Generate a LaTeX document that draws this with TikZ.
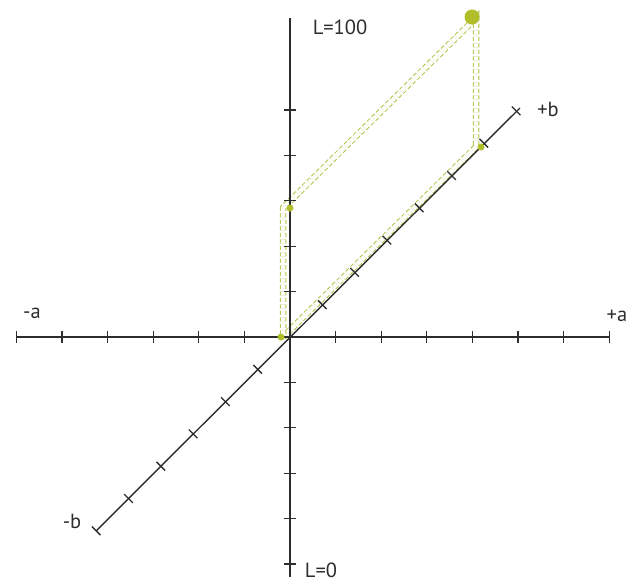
\documentclass[tikz,border=0pt]{standalone}
\usepackage{fontspec}
\setmainfont{PT Sans}
\definecolor{dotgreen}{RGB}{176,190,42}
\definecolor{guidegreen}{RGB}{180,194,70}
\definecolor{axisgray}{RGB}{45,45,45}
\begin{document}
\begin{tikzpicture}[x=1pt,y=-1pt,
  axis/.style={draw=axisgray, line width=1.4pt},
  tickmark/.style={draw=axisgray, line width=1.3pt},
  guide/.style={draw=guidegreen, line width=1pt, dash pattern=on 4pt off 2.5pt, double=white, double distance=4.5pt, line join=miter},
  lbl/.style={font=\fontsize{20.5}{20.5}\selectfont, text=axisgray, inner sep=0pt},
  dot/.style={circle, fill=dotgreen, inner sep=0pt}]
\useasboundingbox (0,0) rectangle (630,582);
\fill[white] (0,0) rectangle (630,582);
% guide parallelogram
\coordinate (A) at (283,337);
\coordinate (B) at (476,147);
\coordinate (C) at (476,18);
\coordinate (D) at (283,208);
\draw[guide] (A) -- (B) -- (C) -- (D) -- cycle;
% axes
\coordinate (O) at (290,337);
\coordinate (aminus) at (16,337);
\coordinate (aplus) at (609,337);
\coordinate (Ltop) at (290,18);
\coordinate (Lbot) at (290,577);
\coordinate (bminus) at (96,531);
\coordinate (bplus) at (520,108);
\draw[axis] (aminus) -- (aplus);
\draw[axis] (Ltop) -- (Lbot);
\draw[axis] (bminus) -- (bplus);
\foreach \i in {-6,...,-1,1,2,...,7}
  \draw[tickmark] ({290+\i*45.6},331) -- ++(0,12);
\foreach \i in {-5,...,-1,1,2,...,5}
  \draw[tickmark] (284,{337+\i*45.4}) -- ++(12,0);
\foreach \i in {-6,...,-1,1,2,...,7}
  \draw[tickmark] ({290+\i*32.3-4.3},{337-\i*32.3-4.3}) -- ++(8.6,8.6);
% dots
\node[dot, minimum size=15pt] (P) at (472,17) {};
\node[dot, minimum size=7pt] (pa) at (281,337) {};
\node[dot, minimum size=7pt] (pl) at (290,208) {};
\node[dot, minimum size=7pt] (pb) at (481,147) {};
% labels
\node[lbl] (l100) at (340,27) {L=100};
\node[lbl] (l0) at (321,570) {L=0};
\node[lbl] (la1) at (32,313) {-a};
\node[lbl] (la2) at (617,316) {+a};
\node[lbl] (lb1) at (72,521) {-b};
\node[lbl] (lb2) at (548,109) {+b};
\end{tikzpicture}
\end{document}
